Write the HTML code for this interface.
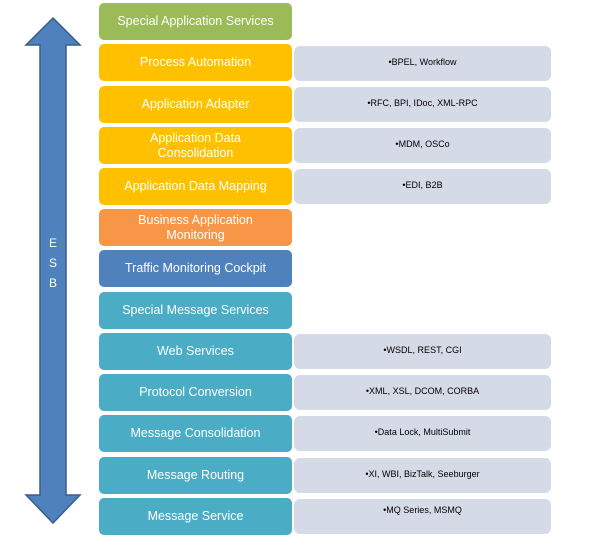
<!DOCTYPE html>
<html><head><meta charset="utf-8"><style>
body{margin:0;width:596px;height:539px;background:#fff;position:relative;overflow:hidden;font-family:"Liberation Sans",sans-serif}
.l{position:absolute;left:99px;width:193px;height:37px;border-radius:5px;color:#fff;font-size:12.5px;display:flex;align-items:center;justify-content:center;text-align:center;line-height:15px}
.r{position:absolute;left:294px;width:257px;height:35px;border-radius:6px;background:#d5dbe6;color:#000;font-size:9px;text-align:center;box-sizing:border-box;padding-top:11px}
.g{background:#9bbb59}.o{background:#ffc000}.p{background:#f79646}.b{background:#4f81bd}.t{background:#4bacc6}
.esb{position:absolute;left:47px;width:12px;text-align:center;color:#fff;font-size:12px}
</style></head><body>
<svg width="596" height="539" style="position:absolute;left:0;top:0">
<polygon points="53,18 80,45 66,45 66,495 80,495 53,523 26,495 40,495 40,45 26,45" fill="#4f81bd" stroke="#385d8a" stroke-width="1.5"/>
</svg>
<div class="esb" style="top:236px">E</div>
<div class="esb" style="top:256px">S</div>
<div class="esb" style="top:276px">B</div>

<div class="l g" style="top:3px">Special Application Services</div>
<div class="l o" style="top:44px">Process Automation</div>
<div class="l o" style="top:86px">Application Adapter</div>
<div class="l o" style="top:127px">Application Data<br>Consolidation</div>
<div class="l o" style="top:168px">Application Data Mapping</div>
<div class="l p" style="top:209px">Business Application<br>Monitoring</div>
<div class="l b" style="top:250px">Traffic Monitoring Cockpit</div>
<div class="l t" style="top:292px">Special Message Services</div>
<div class="l t" style="top:333px">Web Services</div>
<div class="l t" style="top:374px">Protocol Conversion</div>
<div class="l t" style="top:415px">Message Consolidation</div>
<div class="l t" style="top:457px">Message Routing</div>
<div class="l t" style="top:498px">Message Service</div>

<div class="r" style="top:46px">•BPEL, Workflow</div>
<div class="r" style="top:87px">•RFC, BPI, IDoc, XML-RPC</div>
<div class="r" style="top:128px">•MDM, OSCo</div>
<div class="r" style="top:169px">•EDI, B2B</div>
<div class="r" style="top:334px">•WSDL, REST, CGI</div>
<div class="r" style="top:375px">•XML, XSL, DCOM, CORBA</div>
<div class="r" style="top:416px">•Data Lock, MultiSubmit</div>
<div class="r" style="top:458px">•XI, WBI, BizTalk, Seeburger</div>
<div class="r" style="top:499px;padding-top:6px">•MQ Series, MSMQ</div>
</body></html>
